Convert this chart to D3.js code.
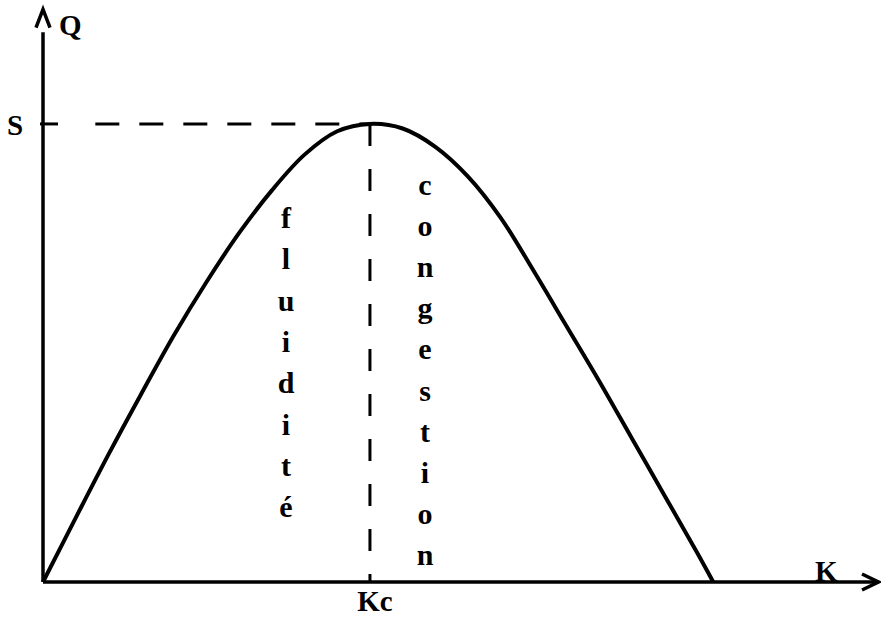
<!DOCTYPE html>
<html>
<head>
<meta charset="utf-8">
<script src="https://cdn.jsdelivr.net/npm/d3@7"></script>
<style>
  body { margin: 0; background: #fff; }
  svg text { font-family: "Liberation Serif", "Times New Roman", serif; font-weight: bold; fill: #000; }
</style>
</head>
<body>
<svg class="fd" width="881" height="618"></svg>
<script>
// flow-density diagram (k in units of Kc, q in units of S)
var densite = [0, 0.10, 0.20, 0.30, 0.40, 0.50, 0.60, 0.70, 0.80, 0.90, 1.00,
               1.10, 1.20, 1.30, 1.40, 1.50, 1.60, 1.70, 1.80, 1.90, 2.00, 2.05];
var debit   = [0, 0.14, 0.278, 0.41, 0.538, 0.655, 0.762, 0.855, 0.933, 0.984, 1.00,
               0.99, 0.95, 0.885, 0.795, 0.68, 0.56, 0.44, 0.315, 0.19, 0.065, 0];
var Kc = 1, S = 1;
var axisLabels = { x: 'K', y: 'Q', kc: 'Kc', s: 'S' };
var zone1 = 'fluidité';
var zone2 = 'congestion';

var svg = d3.select('svg.fd');

var x = d3.scaleLinear().domain([0, 2.56]).range([43, 880]);
var y = d3.scaleLinear().domain([0, 1.24]).range([582, 14]);

var pts = densite.map(function (k, i) { return [k, debit[i]]; });

var line = d3.line()
    .x(function (d) { return x(d[0]); })
    .y(function (d) { return y(d[1]); })
    .curve(d3.curveCatmullRom.alpha(0.5));

// axes
svg.append('line')
    .attr('x1', x(0)).attr('y1', y(0))
    .attr('x2', x(0)).attr('y2', y(1.2))
    .attr('stroke', '#000').attr('stroke-width', 3.5);
svg.append('line')
    .attr('x1', x(0)).attr('y1', y(0))
    .attr('x2', x(2.555)).attr('y2', y(0))
    .attr('stroke', '#000').attr('stroke-width', 3.5);

// arrow heads
svg.append('polyline')
    .attr('points', [[x(0) - 7, y(1.21)], [x(0), y(1.215) - 16], [x(0) + 7, y(1.21)]].join(' '))
    .attr('fill', 'none').attr('stroke', '#000').attr('stroke-width', 3.5)
    .attr('stroke-linejoin', 'miter');
svg.append('polyline')
    .attr('points', [[x(2.505), y(0) - 8], [x(2.555), y(0)], [x(2.505), y(0) + 8]].join(' '))
    .attr('fill', 'none').attr('stroke', '#000').attr('stroke-width', 3.5);

// S tick + dashed reference lines
svg.append('line')
    .attr('x1', x(0) - 3).attr('y1', y(S))
    .attr('x2', x(0) + 15).attr('y2', y(S))
    .attr('stroke', '#000').attr('stroke-width', 3);
svg.append('line')
    .attr('x1', x(0.16)).attr('y1', y(S))
    .attr('x2', x(Kc)).attr('y2', y(S))
    .attr('stroke', '#000').attr('stroke-width', 3)
    .attr('stroke-dasharray', '24,20');
svg.append('line')
    .attr('x1', x(Kc)).attr('y1', y(S))
    .attr('x2', x(Kc)).attr('y2', y(0))
    .attr('stroke', '#000').attr('stroke-width', 3)
    .attr('stroke-dasharray', '22,23');

// curve
svg.append('path')
    .datum(pts)
    .attr('d', line)
    .attr('fill', 'none')
    .attr('stroke', '#000')
    .attr('stroke-width', 4);

// labels
svg.append('text').attr('x', x(0) + 16).attr('y', 35)
    .attr('font-size', 29).text(axisLabels.y);
svg.append('text').attr('x', 7).attr('y', y(S) + 11)
    .attr('font-size', 29).text(axisLabels.s);
svg.append('text').attr('x', 815).attr('y', y(0) - 1)
    .attr('font-size', 29).text(axisLabels.x);
svg.append('text').attr('x', x(Kc) + 5).attr('y', 611)
    .attr('text-anchor', 'middle')
    .attr('font-size', 29).text(axisLabels.kc);

// vertical words, one letter per row
var step = 41.3;
svg.selectAll('.z1').data(zone1.split(''))
  .enter().append('text')
    .attr('class', 'z1')
    .attr('x', 286)
    .attr('y', function (d, i) { return 228 + i * step; })
    .attr('text-anchor', 'middle')
    .attr('font-size', 30)
    .text(function (d) { return d; });

svg.selectAll('.z2').data(zone2.split(''))
  .enter().append('text')
    .attr('class', 'z2')
    .attr('x', 425)
    .attr('y', function (d, i) { return 195 + i * 41.1; })
    .attr('text-anchor', 'middle')
    .attr('font-size', 30)
    .text(function (d) { return d; });
</script>
</body>
</html>
